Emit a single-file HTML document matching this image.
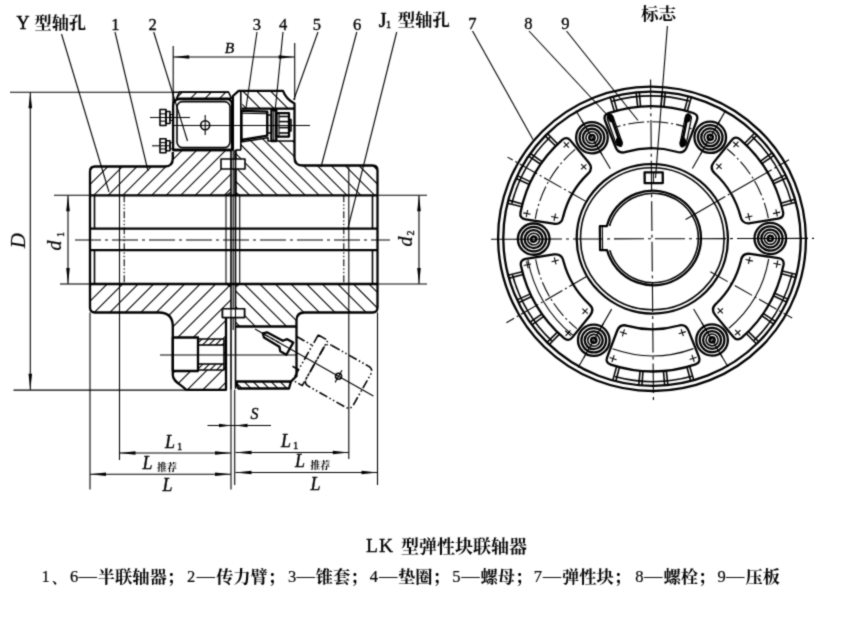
<!DOCTYPE html>
<html><head><meta charset="utf-8"><title>LK</title>
<style>
html,body{margin:0;padding:0;background:#fff;}
body{width:846px;height:622px;overflow:hidden;position:relative;font-family:"Liberation Serif",serif;}
</style></head><body>
<svg width="846" height="622" viewBox="0 0 846 622" style="position:absolute;left:0;top:0" stroke="#000" fill="none" stroke-linecap="butt" stroke-linejoin="round">
<defs><filter id="soft" x="0" y="0" width="100%" height="100%" filterUnits="userSpaceOnUse" color-interpolation-filters="sRGB"><feConvolveMatrix order="3" kernelMatrix="0.3 0.9 0.3 0.9 4 0.9 0.3 0.9 0.3" edgeMode="duplicate" preserveAlpha="false"/></filter><clipPath id="c1"><path d="M90.0,195.3 L90.0,171.5 Q90.0,166.5 95.0,166.5 L164.8,166.5 Q172.8,166.5 172.8,158.5 L172.8,150 L231.0,150 L231.0,195.3 Z M221,159 L232.0,159 L232.0,169 L221,169 Z" clip-rule="evenodd"/></clipPath><clipPath id="c2"><path d="M179.5,92.0 L228.5,92.0 L231.5,98.3 L176.5,98.3 Z" clip-rule="evenodd"/></clipPath><clipPath id="c3"><path d="M243,90.8 L283,90.8 Q286,99 294.5,103.5 L294.5,108.5 L243,108.5 Q240.5,100 243,90.8 Z" clip-rule="evenodd"/></clipPath><clipPath id="c4"><path d="M235.5,195.3 L235.5,150 L241,150 L241,142 L268,137.5 L268,141 L294.5,141 L294.5,157.5 Q294.5,165.5 302.5,165.5 L372.5,165.5 Q377.5,165.5 377.5,170.5 L377.5,195.3 Z M234.5,159 L245,159 L245,169 L234.5,169 Z" clip-rule="evenodd"/></clipPath><clipPath id="c5"><path d="M90.0,284.0 L231.0,284.0 L231.0,309 L226,309 L226,389.8 L186,389.8 C181,384 172.8,382 172.8,375 L172.8,371 L198,371 L198,370 L224,370 L224,339 L198,339 L198,337.5 L172.8,337.5 L172.8,326.5 Q172.8,312.5 158.8,312.5 L95.0,312.5 Q90.0,312.5 90.0,307.5 Z" clip-rule="evenodd"/></clipPath><clipPath id="c6"><path d="M198,339 L224,339 L224,345 L198,345 Z M198,364 L224,364 L224,370 L198,370 Z" clip-rule="evenodd"/></clipPath><clipPath id="c7"><path d="M235.5,284.0 L377.5,284.0 L377.5,307.5 Q377.5,312.5 372.5,312.5 L304.5,312.5 Q296.5,312.5 296.5,320.5 L296.5,326.5 L235.5,326.5 Z M234.5,308.7 L244.5,308.7 L244.5,317.5 L234.5,317.5 Z" clip-rule="evenodd"/></clipPath><clipPath id="c8"><path d="M236.5,381.5 L291,381.5 L289,388.5 L238.5,388.5 Q236.5,386 236.5,381.5 Z" clip-rule="evenodd"/></clipPath></defs>
<g filter="url(#soft)">
<g id="leftview">
<g clip-path="url(#c1)">
<path d="M96.5,149.0L49.2,196.3M111.0,149.0L63.7,196.3M125.5,149.0L78.2,196.3M140.0,149.0L92.7,196.3M154.5,149.0L107.2,196.3M169.0,149.0L121.7,196.3M183.5,149.0L136.2,196.3M198.0,149.0L150.7,196.3M212.5,149.0L165.2,196.3M227.0,149.0L179.7,196.3M241.5,149.0L194.2,196.3M256.0,149.0L208.7,196.3M270.5,149.0L223.2,196.3" stroke-width="1.1"/>
</g>
<g clip-path="url(#c2)">
<path d="M183.5,91.0L175.2,99.3M198.0,91.0L189.7,99.3M212.5,91.0L204.2,99.3M227.0,91.0L218.7,99.3" stroke-width="1.1"/>
</g>
<path d="M179.5,92.0 L228.5,92.0 L231.5,98.3 L176.5,98.3 Z" stroke-width="1.6" fill="none"/>
<path d="M90.0,195.3 L90.0,171.5 Q90.0,166.5 95.0,166.5 L164.8,166.5 Q172.8,166.5 172.8,158.5 L172.8,152" stroke-width="2.3" fill="none"/>
<line x1="90.00" y1="195.30" x2="377.50" y2="195.30" stroke-width="2.3"/>
<line x1="90.00" y1="284.00" x2="377.50" y2="284.00" stroke-width="2.3"/>
<path d="M173.10000000000002,150 L173.10000000000002,106 Q173.10000000000002,99.2 179.8,99.2 L227.0,99.2 Q232.0,99.2 232.0,105 L232.0,150 Z" stroke-width="2.3" fill="none"/>
<rect x="177.00" y="101.60" width="53.00" height="46.00" rx="5.5" stroke-width="1.6" fill="none"/>
<line x1="172.80" y1="92.30" x2="229.00" y2="92.30" stroke-width="1.6"/>
<line x1="172.80" y1="150.00" x2="232.00" y2="150.00" stroke-width="2.3"/>
<line x1="173.10" y1="92.30" x2="173.10" y2="106.00" stroke-width="1.6"/>
<circle cx="205.20" cy="125.20" r="4.50" stroke-width="1.6" fill="none"/>
<line x1="174.00" y1="125.50" x2="310.00" y2="125.50" stroke-width="1.1"/>
<line x1="205.20" y1="115.00" x2="205.20" y2="135.00" stroke-width="1.1"/>
<rect x="160.00" y="109.50" width="6.00" height="16.00" rx="0" stroke-width="1.6" fill="none"/>
<line x1="160.00" y1="113.86" x2="166.00" y2="113.86" stroke-width="1.1"/>
<line x1="160.00" y1="121.14" x2="166.00" y2="121.14" stroke-width="1.1"/>
<rect x="166.00" y="111.50" width="4.00" height="12.00" rx="0" stroke-width="1.6" fill="none"/>
<rect x="170.00" y="114.50" width="2.80" height="6.00" rx="0" stroke-width="1.1" fill="none"/>
<rect x="160.00" y="138.80" width="6.00" height="14.00" rx="0" stroke-width="1.6" fill="none"/>
<line x1="160.00" y1="142.62" x2="166.00" y2="142.62" stroke-width="1.1"/>
<line x1="160.00" y1="148.98" x2="166.00" y2="148.98" stroke-width="1.1"/>
<rect x="166.00" y="140.80" width="4.00" height="10.00" rx="0" stroke-width="1.6" fill="none"/>
<rect x="170.00" y="142.80" width="2.80" height="6.00" rx="0" stroke-width="1.1" fill="none"/>
<line x1="150.00" y1="117.50" x2="190.00" y2="117.50" stroke-width="1.1"/>
<line x1="152.00" y1="145.80" x2="170.00" y2="145.80" stroke-width="1.1"/>
<g clip-path="url(#c3)">
<path d="M227.6,89.8L247.3,109.5M241.5,89.8L261.2,109.5M255.4,89.8L275.1,109.5M269.3,89.8L289.0,109.5M283.2,89.8L302.9,109.5" stroke-width="1.1"/>
</g>
<g clip-path="url(#c4)">
<path d="M177.0,136.5L236.8,196.3M190.9,136.5L250.7,196.3M204.8,136.5L264.6,196.3M218.7,136.5L278.5,196.3M232.6,136.5L292.4,196.3M246.5,136.5L306.3,196.3M260.4,136.5L320.2,196.3M274.3,136.5L334.1,196.3M288.2,136.5L348.0,196.3M302.1,136.5L361.9,196.3M316.0,136.5L375.8,196.3M329.9,136.5L389.7,196.3M343.8,136.5L403.6,196.3M357.7,136.5L417.5,196.3M371.6,136.5L431.4,196.3" stroke-width="1.1"/>
</g>
<path d="M235.5,195.3 L235.5,150 M232.9,150 L232.9,96 L238.6,90.8 L283,90.8 Q286,99 294.5,103.5 L294.5,157.5 Q294.5,165.5 302.5,165.5 L372.5,165.5 Q377.5,165.5 377.5,170.5 L377.5,195.3" stroke-width="2.3" fill="none"/>
<path d="M240.8,92 L240.8,150" stroke-width="1.6" fill="none"/>
<path d="M235.5,150 L241,150" stroke-width="1.6" fill="none"/>
<path d="M241.5,108.6 L294.5,108.6" stroke-width="2.3" fill="none"/>
<path d="M241.5,110.8 L267.3,111.6 L267.3,135.6 L241.5,140 Z" stroke-width="2.3" fill="none"/>
<path d="M241.5,113.2 L267.3,113.8" stroke-width="1.1" fill="none"/>
<rect x="267.30" y="115.00" width="4.10" height="18.00" rx="0" stroke-width="1.6" fill="none"/>
<rect x="271.40" y="110.00" width="4.90" height="31.00" rx="0" stroke-width="2.3" fill="none"/>
<line x1="273.80" y1="110.00" x2="273.80" y2="141.00" stroke-width="1.1"/>
<path d="M241,142 L268,137.8 L268,141 L294.5,141" stroke-width="1.6" fill="none"/>
<rect x="276.30" y="113.20" width="12.70" height="23.40" rx="0" stroke-width="2.3" fill="none"/>
<line x1="279.00" y1="116.50" x2="289.00" y2="116.50" stroke-width="1.6"/>
<line x1="279.00" y1="121.60" x2="289.00" y2="121.60" stroke-width="1.6"/>
<line x1="279.00" y1="127.60" x2="289.00" y2="127.60" stroke-width="1.6"/>
<line x1="279.00" y1="133.00" x2="289.00" y2="133.00" stroke-width="1.6"/>
<line x1="279.00" y1="113.20" x2="279.00" y2="136.60" stroke-width="1.1"/>
<rect x="289.00" y="119.50" width="2.00" height="11.50" rx="0" stroke-width="1.6" fill="none"/>
<line x1="238.00" y1="125.50" x2="300.00" y2="125.50" stroke-width="1.1"/>
<rect x="221.00" y="159.00" width="24.00" height="10.00" rx="0" stroke-width="1.6" fill="#fff"/>
<line x1="231.00" y1="159.00" x2="231.00" y2="169.00" stroke-width="1.1"/>
<line x1="235.50" y1="159.00" x2="235.50" y2="169.00" stroke-width="1.1"/>
<line x1="231.00" y1="150.00" x2="231.00" y2="389.80" stroke-width="1.6"/>
<line x1="235.50" y1="150.00" x2="235.50" y2="388.80" stroke-width="1.6"/>
<line x1="233.20" y1="150.00" x2="233.20" y2="330.00" stroke-width="1.1"/>
<line x1="226.00" y1="195.30" x2="226.00" y2="284.00" stroke-width="1.1"/>
<line x1="239.70" y1="195.30" x2="239.70" y2="284.00" stroke-width="1.1"/>
<path d="M226,195.3 L231.0,192.3 M239.7,195.3 L235.5,192.3 M226,284.0 L231.0,287.0 M239.7,284.0 L235.5,287.0" stroke-width="1.1" fill="none"/>
<line x1="90.00" y1="228.70" x2="377.50" y2="228.70" stroke-width="2.3"/>
<line x1="90.00" y1="250.20" x2="377.50" y2="250.20" stroke-width="2.3"/>
<line x1="75.00" y1="240.00" x2="390.00" y2="240.00" stroke-width="1.1" stroke-dasharray="26 4 3 4"/>
<line x1="94.50" y1="195.30" x2="94.50" y2="228.70" stroke-width="1.6"/>
<line x1="94.50" y1="250.20" x2="94.50" y2="284.00" stroke-width="1.6"/>
<line x1="90.00" y1="228.70" x2="90.00" y2="250.20" stroke-width="1.6"/>
<line x1="372.50" y1="195.30" x2="372.50" y2="228.70" stroke-width="1.6"/>
<line x1="372.50" y1="250.20" x2="372.50" y2="284.00" stroke-width="1.6"/>
<line x1="377.50" y1="195.30" x2="377.50" y2="284.00" stroke-width="2.3"/>
<line x1="90.00" y1="195.30" x2="90.00" y2="284.00" stroke-width="2.3"/>
<line x1="119.50" y1="166.50" x2="119.50" y2="460.00" stroke-width="1.1"/>
<line x1="124.20" y1="195.30" x2="124.20" y2="284.00" stroke-width="1.1" stroke-dasharray="7 2 1.5 2 1.5 2"/>
<line x1="343.80" y1="195.30" x2="343.80" y2="284.00" stroke-width="1.1" stroke-dasharray="7 2 1.5 2 1.5 2"/>
<line x1="348.80" y1="166.50" x2="348.80" y2="459.00" stroke-width="1.1"/>
<g clip-path="url(#c5)">
<path d="M92.7,283.0L-15.1,390.8M108.2,283.0L0.4,390.8M123.7,283.0L15.9,390.8M139.2,283.0L31.4,390.8M154.7,283.0L46.9,390.8M170.2,283.0L62.4,390.8M185.7,283.0L77.9,390.8M201.2,283.0L93.4,390.8M216.7,283.0L108.9,390.8M232.2,283.0L124.4,390.8M247.7,283.0L139.9,390.8M263.2,283.0L155.4,390.8M278.7,283.0L170.9,390.8M294.2,283.0L186.4,390.8M309.7,283.0L201.9,390.8M325.2,283.0L217.4,390.8" stroke-width="1.1"/>
</g>
<g clip-path="url(#c6)">
<path d="M203.0,338.0L170.0,371.0M209.5,338.0L176.5,371.0M216.0,338.0L183.0,371.0M222.5,338.0L189.5,371.0M229.0,338.0L196.0,371.0M235.5,338.0L202.5,371.0M242.0,338.0L209.0,371.0M248.5,338.0L215.5,371.0M255.0,338.0L222.0,371.0" stroke-width="1.1"/>
</g>
<path d="M90.0,284.0 L90.0,307.5 Q90.0,312.5 95.0,312.5 L158.8,312.5 Q172.8,312.5 172.8,326.5 L172.8,375 C172.8,382 181,384 186,389.8 L226,389.8 L226,309" stroke-width="2.3" fill="none"/>
<rect x="172.80" y="337.50" width="25.20" height="33.50" rx="0" stroke-width="2.3" fill="none"/>
<rect x="198.00" y="339.00" width="26.00" height="31.00" rx="0" stroke-width="1.6" fill="none"/>
<line x1="198.00" y1="345.00" x2="224.00" y2="345.00" stroke-width="1.6"/>
<line x1="198.00" y1="364.00" x2="224.00" y2="364.00" stroke-width="1.6"/>
<line x1="160.00" y1="355.00" x2="297.00" y2="355.00" stroke-width="1.1"/>
<rect x="222.50" y="308.70" width="22.00" height="8.80" rx="0" stroke-width="1.6" fill="#fff"/>
<g clip-path="url(#c7)">
<path d="M196.4,283.0L240.9,327.5M212.0,283.0L256.5,327.5M227.6,283.0L272.1,327.5M243.2,283.0L287.7,327.5M258.8,283.0L303.3,327.5M274.4,283.0L318.9,327.5M290.0,283.0L334.5,327.5M305.6,283.0L350.1,327.5M321.2,283.0L365.7,327.5M336.8,283.0L381.3,327.5M352.4,283.0L396.9,327.5M368.0,283.0L412.5,327.5" stroke-width="1.1"/>
</g>
<path d="M377.5,284.0 L377.5,307.5 Q377.5,312.5 372.5,312.5 L304.5,312.5 Q296.5,312.5 296.5,320.5 L296.5,376 L291,381.5" stroke-width="2.3" fill="none"/>
<line x1="235.50" y1="326.50" x2="296.50" y2="326.50" stroke-width="2.3"/>
<g clip-path="url(#c8)">
<path d="M234.0,380.5L243.0,389.5M243.0,380.5L252.0,389.5M252.0,380.5L261.0,389.5M261.0,380.5L270.0,389.5M270.0,380.5L279.0,389.5M279.0,380.5L288.0,389.5M288.0,380.5L297.0,389.5" stroke-width="1.1"/>
</g>
<path d="M236.5,381.5 L291,381.5 L289,388.5 L238.5,388.5 Q236.5,386 236.5,381.5 Z" stroke-width="2.3" fill="none"/>
<rect x="222.50" y="308.70" width="22.00" height="8.80" rx="0" stroke-width="1.6" fill="#fff"/>
<line x1="231.00" y1="308.70" x2="231.00" y2="317.50" stroke-width="1.1"/>
<line x1="235.50" y1="308.70" x2="235.50" y2="317.50" stroke-width="1.1"/>
<line x1="255.00" y1="329.00" x2="373.37" y2="395.97" stroke-width="1.1"/>
<path d="M266.92,332.30 L282.83,340.73 L287.17,339.16 L293.26,342.60 L286.37,354.79 L280.27,351.34 L279.39,346.82 L263.97,337.52 L262.83,333.43 Z" stroke-width="2.3" fill="none"/>
<line x1="265.44" y1="334.91" x2="281.11" y2="343.77" stroke-width="1.1" stroke-dasharray="4 2"/>
<path d="M331.85,345.48 L368.40,366.16 Q373.63,369.11 370.67,374.34 L353.44,404.80 Q350.48,410.02 345.26,407.07 L308.70,386.39 Q303.48,383.43 306.44,378.21 L323.67,347.75 Q326.63,342.52 331.85,345.48 Z" stroke-width="1.6" fill="none" stroke-dasharray="9 2.5 1.5 2.5 1.5 2.5"/>
<path d="M318.28,334.93 L327.86,340.35 L302.25,385.61 L292.68,380.19 Z" stroke-width="1.6" fill="none" stroke-dasharray="9 2.5 1.5 2.5 1.5 2.5"/>
<line x1="296.71" y1="336.51" x2="312.37" y2="345.38" stroke-width="1.6" stroke-dasharray="9 2.5 1.5 2.5 1.5 2.5"/>
<line x1="292.49" y1="366.30" x2="298.59" y2="369.75" stroke-width="1.6" stroke-dasharray="9 2.5 1.5 2.5 1.5 2.5"/>
<circle cx="338.55" cy="376.27" r="3.00" stroke-width="1.6" fill="none"/>
<line x1="342.00" y1="370.18" x2="335.11" y2="382.37" stroke-width="1.1"/>
<line x1="10.00" y1="92.30" x2="172.80" y2="92.30" stroke-width="1.1"/>
<line x1="13.50" y1="390.10" x2="186.00" y2="390.10" stroke-width="1.1"/>
<line x1="30.30" y1="92.30" x2="30.30" y2="389.80" stroke-width="1.1"/>
<polygon points="30.30,92.30 32.10,108.30 28.50,108.30" fill="#000" stroke="none"/>
<polygon points="30.30,389.80 28.50,373.80 32.10,373.80" fill="#000" stroke="none"/>
<line x1="54.00" y1="195.30" x2="90.00" y2="195.30" stroke-width="1.1"/>
<line x1="60.00" y1="284.00" x2="90.00" y2="284.00" stroke-width="1.1"/>
<line x1="68.00" y1="195.30" x2="68.00" y2="284.00" stroke-width="1.1"/>
<polygon points="68.00,195.30 69.80,211.30 66.20,211.30" fill="#000" stroke="none"/>
<polygon points="68.00,284.00 66.20,268.00 69.80,268.00" fill="#000" stroke="none"/>
<line x1="377.50" y1="195.30" x2="427.00" y2="195.30" stroke-width="1.1"/>
<line x1="377.50" y1="284.00" x2="427.00" y2="284.00" stroke-width="1.1"/>
<line x1="419.00" y1="195.30" x2="419.00" y2="284.00" stroke-width="1.1"/>
<polygon points="419.00,195.30 420.80,211.30 417.20,211.30" fill="#000" stroke="none"/>
<polygon points="419.00,284.00 417.20,268.00 420.80,268.00" fill="#000" stroke="none"/>
<line x1="173.20" y1="46.00" x2="173.20" y2="92.30" stroke-width="1.1"/>
<line x1="294.70" y1="43.00" x2="294.70" y2="100.00" stroke-width="1.1"/>
<line x1="173.20" y1="57.00" x2="294.70" y2="57.00" stroke-width="1.1"/>
<polygon points="173.20,57.00 189.20,55.20 189.20,58.80" fill="#000" stroke="none"/>
<polygon points="294.70,57.00 278.70,58.80 278.70,55.20" fill="#000" stroke="none"/>
<line x1="207.50" y1="425.50" x2="271.00" y2="425.50" stroke-width="1.1"/>
<polygon points="231.00,425.50 219.00,427.30 219.00,423.70" fill="#000" stroke="none"/>
<polygon points="235.50,425.50 247.50,423.70 247.50,427.30" fill="#000" stroke="none"/>
<line x1="90.00" y1="312.50" x2="90.00" y2="489.50" stroke-width="1.1"/>
<line x1="377.50" y1="312.50" x2="377.50" y2="485.00" stroke-width="1.1"/>
<line x1="231.00" y1="389.80" x2="231.00" y2="489.50" stroke-width="1.1"/>
<line x1="234.70" y1="389.80" x2="234.70" y2="485.00" stroke-width="1.1"/>
<line x1="119.50" y1="453.00" x2="231.00" y2="453.00" stroke-width="1.1"/>
<polygon points="119.50,453.00 135.50,451.20 135.50,454.80" fill="#000" stroke="none"/>
<polygon points="231.00,453.00 215.00,454.80 215.00,451.20" fill="#000" stroke="none"/>
<line x1="235.50" y1="452.50" x2="348.80" y2="452.50" stroke-width="1.1"/>
<polygon points="235.50,452.50 251.50,450.70 251.50,454.30" fill="#000" stroke="none"/>
<polygon points="348.80,452.50 332.80,454.30 332.80,450.70" fill="#000" stroke="none"/>
<line x1="90.00" y1="474.30" x2="231.00" y2="474.30" stroke-width="1.1"/>
<polygon points="90.00,474.30 106.00,472.50 106.00,476.10" fill="#000" stroke="none"/>
<polygon points="231.00,474.30 215.00,476.10 215.00,472.50" fill="#000" stroke="none"/>
<line x1="235.50" y1="472.50" x2="377.50" y2="472.50" stroke-width="1.1"/>
<polygon points="235.50,472.50 251.50,470.70 251.50,474.30" fill="#000" stroke="none"/>
<polygon points="377.50,472.50 361.50,474.30 361.50,470.70" fill="#000" stroke="none"/>
<line x1="61.50" y1="34.00" x2="109.00" y2="192.00" stroke-width="1.1"/>
<line x1="115.00" y1="32.00" x2="148.00" y2="171.00" stroke-width="1.1"/>
<line x1="153.70" y1="32.00" x2="187.50" y2="141.00" stroke-width="1.1"/>
<line x1="257.00" y1="32.00" x2="246.00" y2="108.00" stroke-width="1.1"/>
<line x1="283.00" y1="32.00" x2="275.00" y2="112.00" stroke-width="1.1"/>
<line x1="318.00" y1="32.00" x2="293.70" y2="100.00" stroke-width="1.1"/>
<line x1="356.80" y1="32.00" x2="321.00" y2="167.00" stroke-width="1.1"/>
<line x1="396.70" y1="32.00" x2="348.00" y2="228.00" stroke-width="1.1"/>
</g>
<g id="rightview" transform="matrix(1 -0.0028 0.0089 0.989 652.0 238.8)">
<circle cx="0.00" cy="0.00" r="153.90" stroke-width="2.3" fill="none"/>
<circle cx="0.00" cy="0.00" r="148.70" stroke-width="2.3" fill="none"/>
<circle cx="0.30" cy="0.00" r="75.60" stroke-width="2.3" fill="none"/>
<circle cx="0.30" cy="0.00" r="71.80" stroke-width="1.6" fill="none"/>
<g transform="translate(1.2,-0.8)">
<path d="M-46.22,-12.20 A47.8,47.8 0 1 1 -46.22,12.20 L-53.2,12.2 L-53.2,-12.2 Z" stroke-width="2.3" fill="none"/>
<path d="M-43.52,-12.20 A45.2,45.2 0 1 1 -43.52,12.20" stroke-width="1.6" fill="none"/>
<line x1="-50.70" y1="-12.20" x2="-50.70" y2="12.20" stroke-width="1.1"/>
</g>
<rect x="-6.80" y="-67.20" width="18.10" height="10.90" rx="0" stroke-width="2.3" fill="none"/>
<line x1="2.00" y1="-67.20" x2="2.00" y2="-56.30" stroke-width="1.1"/>
<line x1="-161.00" y1="0.00" x2="162.00" y2="0.00" stroke-width="1.1" stroke-dasharray="30 4 3 4"/>
<line x1="0.00" y1="-161.00" x2="0.00" y2="163.00" stroke-width="1.1" stroke-dasharray="30 4 3 4"/>
<path d="M131.28,-26.87 A134.00,134.00 0 0 0 88.91,-100.26 Q84.33,-104.14 80.55,-99.47 L62.62,-77.33 Q57.58,-71.11 63.57,-65.81 A91.50,91.50 0 0 1 88.78,-22.15 Q90.37,-14.31 98.27,-15.57 L126.42,-20.02 Q132.35,-20.96 131.28,-26.87 Z" stroke-width="2.3" fill="none"/>
<path d="M116.50,-20.54 A118.30,118.30 0 0 0 76.04,-90.62" stroke-width="1.1" fill="none" stroke-dasharray="16 3 2 3"/>
<path d="M121.23,-25.11 L128.47,-26.61 M124.10,-29.48 L125.60,-22.23" stroke-width="1.1" fill="none"/>
<path d="M82.36,-92.43 L87.28,-97.96 M82.05,-97.66 L87.58,-92.74" stroke-width="1.1" fill="none"/>
<path d="M93.42,-21.22 L100.64,-22.86 M96.21,-25.65 L97.85,-18.44" stroke-width="1.1" fill="none"/>
<path d="M65.09,-70.29 L70.12,-75.72 M64.89,-75.52 L70.32,-70.49" stroke-width="1.1" fill="none"/>
<line x1="33.77" y1="-19.50" x2="137.70" y2="-79.50" stroke-width="1.1" stroke-dasharray="46 3 2 3"/>
<line x1="129.91" y1="-32.84" x2="144.17" y2="-36.44" stroke-width="1.6"/>
<line x1="129.18" y1="-35.62" x2="143.35" y2="-39.52" stroke-width="1.6"/>
<line x1="122.05" y1="-55.33" x2="135.43" y2="-61.40" stroke-width="1.6"/>
<line x1="120.83" y1="-57.93" x2="134.09" y2="-64.28" stroke-width="1.6"/>
<line x1="110.58" y1="-75.68" x2="122.71" y2="-83.98" stroke-width="1.6"/>
<line x1="108.94" y1="-78.03" x2="120.89" y2="-86.59" stroke-width="1.6"/>
<line x1="95.43" y1="-94.07" x2="105.90" y2="-104.38" stroke-width="1.6"/>
<line x1="93.40" y1="-96.09" x2="103.64" y2="-106.63" stroke-width="1.6"/>
<path d="M139.80,-36.15 A144.40,144.40 0 0 0 101.21,-102.99" stroke-width="1.6" fill="none"/>
<path d="M42.37,-127.12 A134.00,134.00 0 0 0 -42.37,-127.12 Q-48.02,-125.10 -45.87,-119.50 L-35.66,-92.89 Q-32.79,-85.42 -25.21,-87.96 A91.50,91.50 0 0 1 25.21,-87.96 Q32.79,-85.42 35.66,-92.89 L45.87,-119.50 Q48.02,-125.10 42.37,-127.12 Z" stroke-width="2.3" fill="none"/>
<path d="M40.46,-111.17 A118.30,118.30 0 0 0 -40.46,-111.17" stroke-width="1.1" fill="none" stroke-dasharray="16 3 2 3"/>
<line x1="36.52" y1="-128.93" x2="40.52" y2="-143.07" stroke-width="1.6"/>
<line x1="33.75" y1="-129.68" x2="37.45" y2="-143.91" stroke-width="1.6"/>
<line x1="13.11" y1="-133.36" x2="14.55" y2="-147.99" stroke-width="1.6"/>
<line x1="10.25" y1="-133.61" x2="11.37" y2="-148.26" stroke-width="1.6"/>
<line x1="-10.25" y1="-133.61" x2="-11.37" y2="-148.26" stroke-width="1.6"/>
<line x1="-13.11" y1="-133.36" x2="-14.55" y2="-147.99" stroke-width="1.6"/>
<line x1="-33.75" y1="-129.68" x2="-37.45" y2="-143.91" stroke-width="1.6"/>
<line x1="-36.52" y1="-128.93" x2="-40.52" y2="-143.07" stroke-width="1.6"/>
<path d="M38.59,-139.15 A144.40,144.40 0 0 0 -38.59,-139.15" stroke-width="1.6" fill="none"/>
<path d="M-88.91,-100.26 A134.00,134.00 0 0 0 -131.28,-26.87 Q-132.35,-20.96 -126.42,-20.02 L-98.27,-15.57 Q-90.37,-14.31 -88.78,-22.15 A91.50,91.50 0 0 1 -63.57,-65.81 Q-57.58,-71.11 -62.62,-77.33 L-80.55,-99.47 Q-84.33,-104.14 -88.91,-100.26 Z" stroke-width="2.3" fill="none"/>
<path d="M-76.04,-90.62 A118.30,118.30 0 0 0 -116.50,-20.54" stroke-width="1.1" fill="none" stroke-dasharray="16 3 2 3"/>
<path d="M-82.36,-92.43 L-87.28,-97.96 M-87.58,-92.74 L-82.05,-97.66" stroke-width="1.1" fill="none"/>
<path d="M-121.23,-25.11 L-128.47,-26.61 M-125.60,-22.23 L-124.10,-29.48" stroke-width="1.1" fill="none"/>
<path d="M-65.09,-70.29 L-70.12,-75.72 M-70.32,-70.49 L-64.89,-75.52" stroke-width="1.1" fill="none"/>
<path d="M-93.42,-21.22 L-100.64,-22.86 M-97.85,-18.44 L-96.21,-25.65" stroke-width="1.1" fill="none"/>
<line x1="-65.82" y1="-38.00" x2="-143.76" y2="-83.00" stroke-width="1.1" stroke-dasharray="20 3 2 3"/>
<line x1="-93.40" y1="-96.09" x2="-103.64" y2="-106.63" stroke-width="1.6"/>
<line x1="-95.43" y1="-94.07" x2="-105.90" y2="-104.38" stroke-width="1.6"/>
<line x1="-108.94" y1="-78.03" x2="-120.89" y2="-86.59" stroke-width="1.6"/>
<line x1="-110.58" y1="-75.68" x2="-122.71" y2="-83.98" stroke-width="1.6"/>
<line x1="-120.83" y1="-57.93" x2="-134.09" y2="-64.28" stroke-width="1.6"/>
<line x1="-122.05" y1="-55.33" x2="-135.43" y2="-61.40" stroke-width="1.6"/>
<line x1="-129.18" y1="-35.62" x2="-143.35" y2="-39.52" stroke-width="1.6"/>
<line x1="-129.91" y1="-32.84" x2="-144.17" y2="-36.44" stroke-width="1.6"/>
<path d="M-101.21,-102.99 A144.40,144.40 0 0 0 -139.80,-36.15" stroke-width="1.6" fill="none"/>
<path d="M-131.28,26.87 A134.00,134.00 0 0 0 -88.91,100.26 Q-84.33,104.14 -80.55,99.47 L-62.62,77.33 Q-57.58,71.11 -63.57,65.81 A91.50,91.50 0 0 1 -88.78,22.15 Q-90.37,14.31 -98.27,15.57 L-126.42,20.02 Q-132.35,20.96 -131.28,26.87 Z" stroke-width="2.3" fill="none"/>
<path d="M-116.50,20.54 A118.30,118.30 0 0 0 -76.04,90.62" stroke-width="1.1" fill="none" stroke-dasharray="16 3 2 3"/>
<path d="M-124.27,20.80 A126.00,126.00 0 0 0 -80.15,97.22" stroke-width="1.1" fill="none"/>
<path d="M-121.23,25.11 L-128.47,26.61 M-124.10,29.48 L-125.60,22.23" stroke-width="1.1" fill="none"/>
<path d="M-82.36,92.43 L-87.28,97.96 M-82.05,97.66 L-87.58,92.74" stroke-width="1.1" fill="none"/>
<path d="M-93.42,21.22 L-100.64,22.86 M-96.21,25.65 L-97.85,18.44" stroke-width="1.1" fill="none"/>
<path d="M-65.09,70.29 L-70.12,75.72 M-64.89,75.52 L-70.32,70.49" stroke-width="1.1" fill="none"/>
<line x1="-65.82" y1="38.00" x2="-146.36" y2="84.50" stroke-width="1.1" stroke-dasharray="20 3 2 3"/>
<line x1="-129.91" y1="32.84" x2="-144.17" y2="36.44" stroke-width="1.6"/>
<line x1="-129.18" y1="35.62" x2="-143.35" y2="39.52" stroke-width="1.6"/>
<line x1="-122.05" y1="55.33" x2="-135.43" y2="61.40" stroke-width="1.6"/>
<line x1="-120.83" y1="57.93" x2="-134.09" y2="64.28" stroke-width="1.6"/>
<line x1="-110.58" y1="75.68" x2="-122.71" y2="83.98" stroke-width="1.6"/>
<line x1="-108.94" y1="78.03" x2="-120.89" y2="86.59" stroke-width="1.6"/>
<line x1="-95.43" y1="94.07" x2="-105.90" y2="104.38" stroke-width="1.6"/>
<line x1="-93.40" y1="96.09" x2="-103.64" y2="106.63" stroke-width="1.6"/>
<path d="M-139.80,36.15 A144.40,144.40 0 0 0 -101.21,102.99" stroke-width="1.6" fill="none"/>
<path d="M-42.37,127.12 A134.00,134.00 0 0 0 42.37,127.12 Q48.02,125.10 45.87,119.50 L35.66,92.89 Q32.79,85.42 25.21,87.96 A91.50,91.50 0 0 1 -25.21,87.96 Q-32.79,85.42 -35.66,92.89 L-45.87,119.50 Q-48.02,125.10 -42.37,127.12 Z" stroke-width="2.3" fill="none"/>
<path d="M-40.46,111.17 A118.30,118.30 0 0 0 40.46,111.17" stroke-width="1.1" fill="none"/>
<path d="M-38.87,117.54 L-41.20,124.56 M-36.52,122.21 L-43.55,119.89" stroke-width="1.1" fill="none"/>
<path d="M38.87,117.54 L41.20,124.56 M43.55,119.89 L36.52,122.21" stroke-width="1.1" fill="none"/>
<path d="M-28.33,91.52 L-30.52,98.58 M-25.89,96.14 L-32.96,93.96" stroke-width="1.1" fill="none"/>
<path d="M28.33,91.52 L30.52,98.58 M32.96,93.96 L25.89,96.14" stroke-width="1.1" fill="none"/>
<line x1="-36.52" y1="128.93" x2="-40.52" y2="143.07" stroke-width="1.6"/>
<line x1="-33.75" y1="129.68" x2="-37.45" y2="143.91" stroke-width="1.6"/>
<line x1="-13.11" y1="133.36" x2="-14.55" y2="147.99" stroke-width="1.6"/>
<line x1="-10.25" y1="133.61" x2="-11.37" y2="148.26" stroke-width="1.6"/>
<line x1="10.25" y1="133.61" x2="11.37" y2="148.26" stroke-width="1.6"/>
<line x1="13.11" y1="133.36" x2="14.55" y2="147.99" stroke-width="1.6"/>
<line x1="33.75" y1="129.68" x2="37.45" y2="143.91" stroke-width="1.6"/>
<line x1="36.52" y1="128.93" x2="40.52" y2="143.07" stroke-width="1.6"/>
<path d="M-38.59,139.15 A144.40,144.40 0 0 0 38.59,139.15" stroke-width="1.6" fill="none"/>
<path d="M88.91,100.26 A134.00,134.00 0 0 0 131.28,26.87 Q132.35,20.96 126.42,20.02 L98.27,15.57 Q90.37,14.31 88.78,22.15 A91.50,91.50 0 0 1 63.57,65.81 Q57.58,71.11 62.62,77.33 L80.55,99.47 Q84.33,104.14 88.91,100.26 Z" stroke-width="2.3" fill="none"/>
<path d="M76.04,90.62 A118.30,118.30 0 0 0 116.50,20.54" stroke-width="1.1" fill="none"/>
<path d="M82.36,92.43 L87.28,97.96 M87.58,92.74 L82.05,97.66" stroke-width="1.1" fill="none"/>
<path d="M121.23,25.11 L128.47,26.61 M125.60,22.23 L124.10,29.48" stroke-width="1.1" fill="none"/>
<path d="M65.09,70.29 L70.12,75.72 M70.32,70.49 L64.89,75.52" stroke-width="1.1" fill="none"/>
<path d="M93.42,21.22 L100.64,22.86 M97.85,18.44 L96.21,25.65" stroke-width="1.1" fill="none"/>
<line x1="58.02" y1="33.50" x2="139.43" y2="80.50" stroke-width="1.1" stroke-dasharray="20 3 2 3"/>
<line x1="93.40" y1="96.09" x2="103.64" y2="106.63" stroke-width="1.6"/>
<line x1="95.43" y1="94.07" x2="105.90" y2="104.38" stroke-width="1.6"/>
<line x1="108.94" y1="78.03" x2="120.89" y2="86.59" stroke-width="1.6"/>
<line x1="110.58" y1="75.68" x2="122.71" y2="83.98" stroke-width="1.6"/>
<line x1="120.83" y1="57.93" x2="134.09" y2="64.28" stroke-width="1.6"/>
<line x1="122.05" y1="55.33" x2="135.43" y2="61.40" stroke-width="1.6"/>
<line x1="129.18" y1="35.62" x2="143.35" y2="39.52" stroke-width="1.6"/>
<line x1="129.91" y1="32.84" x2="144.17" y2="36.44" stroke-width="1.6"/>
<path d="M101.21,102.99 A144.40,144.40 0 0 0 139.80,36.15" stroke-width="1.6" fill="none"/>
<circle cx="118.30" cy="-0.00" r="15.80" stroke-width="2.3" fill="#fff"/>
<circle cx="118.30" cy="-0.00" r="12.30" stroke-width="2.3" fill="none"/>
<circle cx="118.30" cy="-0.00" r="9.00" stroke-width="2.3" fill="none"/>
<circle cx="118.30" cy="-0.00" r="6.00" stroke-width="1.6" fill="none"/>
<circle cx="118.30" cy="-0.00" r="2.60" stroke-width="2.6" fill="none"/>
<line x1="101.30" y1="-0.00" x2="135.30" y2="-0.00" stroke-width="1.1"/>
<line x1="41.00" y1="-71.01" x2="75.00" y2="-129.90" stroke-width="1.1"/>
<circle cx="59.15" cy="-102.45" r="15.80" stroke-width="2.3" fill="#fff"/>
<circle cx="59.15" cy="-102.45" r="12.30" stroke-width="2.3" fill="none"/>
<circle cx="59.15" cy="-102.45" r="9.00" stroke-width="2.3" fill="none"/>
<circle cx="59.15" cy="-102.45" r="6.00" stroke-width="1.6" fill="none"/>
<circle cx="59.15" cy="-102.45" r="2.60" stroke-width="2.6" fill="none"/>
<line x1="49.15" y1="-85.13" x2="69.15" y2="-119.77" stroke-width="1.1"/>
<line x1="-41.00" y1="-71.01" x2="-75.00" y2="-129.90" stroke-width="1.1"/>
<circle cx="-59.15" cy="-102.45" r="15.80" stroke-width="2.3" fill="#fff"/>
<circle cx="-59.15" cy="-102.45" r="12.30" stroke-width="2.3" fill="none"/>
<circle cx="-59.15" cy="-102.45" r="9.00" stroke-width="2.3" fill="none"/>
<circle cx="-59.15" cy="-102.45" r="6.00" stroke-width="1.6" fill="none"/>
<circle cx="-59.15" cy="-102.45" r="2.60" stroke-width="2.6" fill="none"/>
<line x1="-49.15" y1="-85.13" x2="-69.15" y2="-119.77" stroke-width="1.1"/>
<circle cx="-118.30" cy="-0.00" r="15.80" stroke-width="2.3" fill="#fff"/>
<circle cx="-118.30" cy="-0.00" r="12.30" stroke-width="2.3" fill="none"/>
<circle cx="-118.30" cy="-0.00" r="9.00" stroke-width="2.3" fill="none"/>
<circle cx="-118.30" cy="-0.00" r="6.00" stroke-width="1.6" fill="none"/>
<circle cx="-118.30" cy="-0.00" r="2.60" stroke-width="2.6" fill="none"/>
<line x1="-135.30" y1="-0.00" x2="-101.30" y2="-0.00" stroke-width="1.1"/>
<line x1="-41.00" y1="71.01" x2="-75.00" y2="129.90" stroke-width="1.1"/>
<circle cx="-59.15" cy="102.45" r="15.80" stroke-width="2.3" fill="#fff"/>
<circle cx="-59.15" cy="102.45" r="12.30" stroke-width="2.3" fill="none"/>
<circle cx="-59.15" cy="102.45" r="9.00" stroke-width="2.3" fill="none"/>
<circle cx="-59.15" cy="102.45" r="6.00" stroke-width="1.6" fill="none"/>
<circle cx="-59.15" cy="102.45" r="2.60" stroke-width="2.6" fill="none"/>
<line x1="-49.15" y1="85.13" x2="-69.15" y2="119.77" stroke-width="1.1"/>
<line x1="41.00" y1="71.01" x2="75.00" y2="129.90" stroke-width="1.1"/>
<circle cx="59.15" cy="102.45" r="15.80" stroke-width="2.3" fill="#fff"/>
<circle cx="59.15" cy="102.45" r="12.30" stroke-width="2.3" fill="none"/>
<circle cx="59.15" cy="102.45" r="9.00" stroke-width="2.3" fill="none"/>
<circle cx="59.15" cy="102.45" r="6.00" stroke-width="1.6" fill="none"/>
<circle cx="59.15" cy="102.45" r="2.60" stroke-width="2.6" fill="none"/>
<line x1="49.15" y1="85.13" x2="69.15" y2="119.77" stroke-width="1.1"/>
<line x1="-40.60" y1="-122.00" x2="-32.30" y2="-97.50" stroke-width="7.4" stroke-linecap="round"/>
<line x1="-40.60" y1="-122.00" x2="-32.30" y2="-97.50" stroke-width="4.8" stroke-linecap="round" stroke="#fff"/>
<ellipse cx="-40.03" cy="-122.19" rx="3.0" ry="4.6" transform="rotate(-18.7 -40.60 -122.00)" fill="#000" stroke="none"/>
<ellipse cx="-31.73" cy="-97.69" rx="3.2" ry="5.2" transform="rotate(-18.7 -32.30 -97.50)" fill="#000" stroke="none"/>
<line x1="-39.46" y1="-122.39" x2="-31.16" y2="-97.89" stroke-width="2.6"/>
<line x1="37.40" y1="-122.00" x2="32.20" y2="-97.00" stroke-width="7.4" stroke-linecap="round"/>
<line x1="37.40" y1="-122.00" x2="32.20" y2="-97.00" stroke-width="4.8" stroke-linecap="round" stroke="#fff"/>
<ellipse cx="36.81" cy="-122.12" rx="3.0" ry="4.6" transform="rotate(11.7 37.40 -122.00)" fill="#000" stroke="none"/>
<ellipse cx="31.61" cy="-97.12" rx="3.2" ry="5.2" transform="rotate(11.7 32.20 -97.00)" fill="#000" stroke="none"/>
<line x1="36.23" y1="-122.24" x2="31.03" y2="-97.24" stroke-width="2.6"/>
</g>
<line x1="472.50" y1="31.00" x2="533.00" y2="139.50" stroke-width="1.1"/>
<line x1="529.00" y1="31.00" x2="611.00" y2="119.00" stroke-width="1.1"/>
<line x1="566.50" y1="31.00" x2="638.00" y2="120.50" stroke-width="1.1"/>
<line x1="667.40" y1="26.00" x2="655.50" y2="178.00" stroke-width="1.1"/>
<g id="texts">
<text x="115.30" y="30.20" font-size="16.5" text-anchor="middle" style="font-weight:normal" font-family="Liberation Serif, serif" fill="#000" stroke="#000" stroke-width="0.35">1</text>
<text x="152.70" y="30.20" font-size="16.5" text-anchor="middle" style="font-weight:normal" font-family="Liberation Serif, serif" fill="#000" stroke="#000" stroke-width="0.35">2</text>
<text x="256.80" y="30.20" font-size="16.5" text-anchor="middle" style="font-weight:normal" font-family="Liberation Serif, serif" fill="#000" stroke="#000" stroke-width="0.35">3</text>
<text x="283.00" y="30.20" font-size="16.5" text-anchor="middle" style="font-weight:normal" font-family="Liberation Serif, serif" fill="#000" stroke="#000" stroke-width="0.35">4</text>
<text x="316.80" y="30.20" font-size="16.5" text-anchor="middle" style="font-weight:normal" font-family="Liberation Serif, serif" fill="#000" stroke="#000" stroke-width="0.35">5</text>
<text x="357.20" y="30.20" font-size="16.5" text-anchor="middle" style="font-weight:normal" font-family="Liberation Serif, serif" fill="#000" stroke="#000" stroke-width="0.35">6</text>
<text x="472.30" y="29.40" font-size="16.5" text-anchor="middle" style="font-weight:normal" font-family="Liberation Serif, serif" fill="#000" stroke="#000" stroke-width="0.35">7</text>
<text x="528.30" y="29.40" font-size="16.5" text-anchor="middle" style="font-weight:normal" font-family="Liberation Serif, serif" fill="#000" stroke="#000" stroke-width="0.35">8</text>
<text x="565.30" y="29.40" font-size="16.5" text-anchor="middle" style="font-weight:normal" font-family="Liberation Serif, serif" fill="#000" stroke="#000" stroke-width="0.35">9</text>
<text x="23.00" y="29.20" font-size="18" text-anchor="middle" style="font-weight:normal" font-family="Liberation Serif, serif" fill="#000" stroke="#000" stroke-width="0.55">Y</text>
<text x="34.5" y="29" font-size="17.2" font-weight="bold" font-family="Liberation Serif, Noto Serif CJK SC, serif" fill="#000" stroke="none">型轴孔</text>
<text x="382.60" y="27.30" font-size="20" text-anchor="middle" style="font-weight:normal" font-family="Liberation Serif, serif" fill="#000" stroke="#000" stroke-width="0.5">J</text>
<text x="388.40" y="28.20" font-size="11" text-anchor="middle" style="font-weight:normal" font-family="Liberation Serif, serif" fill="#000" stroke="#000" stroke-width="0.4">1</text>
<text x="397.7" y="26" font-size="17.4" font-weight="bold" font-family="Liberation Serif, Noto Serif CJK SC, serif" fill="#000" stroke="none">型轴孔</text>
<text x="641" y="20" font-size="17.6" font-weight="bold" font-family="Liberation Serif, Noto Serif CJK SC, serif" fill="#000" stroke="none">标志</text>
<text x="229.50" y="53.30" font-size="15.5" text-anchor="middle" style="font-style:italic;font-weight:normal" font-family="Liberation Serif, serif" fill="#000" stroke="#000" stroke-width="0.35">B</text>
<text x="254.50" y="419.20" font-size="16" text-anchor="middle" style="font-style:italic;font-weight:normal" font-family="Liberation Serif, serif" fill="#000" stroke="#000" stroke-width="0.35">S</text>
<text x="25.00" y="240.70" font-size="21" text-anchor="middle" style="font-style:italic;font-weight:normal" font-family="Liberation Serif, serif" fill="#000" stroke="#000" stroke-width="0.15" transform="rotate(-90 25.00 240.70)">D</text>
<text x="61.00" y="245.50" font-size="20" text-anchor="middle" style="font-style:italic;font-weight:normal" font-family="Liberation Serif, serif" fill="#000" stroke="#000" stroke-width="0.2" transform="rotate(-90 61.00 245.50)">d</text>
<text x="64.00" y="234.50" font-size="10" text-anchor="middle" style="font-weight:normal" font-family="Liberation Serif, serif" fill="#000" stroke="#000" stroke-width="0.35" transform="rotate(-90 64.00 234.50)">1</text>
<text x="412.00" y="241.50" font-size="20" text-anchor="middle" style="font-style:italic;font-weight:normal" font-family="Liberation Serif, serif" fill="#000" stroke="#000" stroke-width="0.2" transform="rotate(-90 412.00 241.50)">d</text>
<text x="414.00" y="233.00" font-size="10" text-anchor="middle" style="font-weight:normal" font-family="Liberation Serif, serif" fill="#000" stroke="#000" stroke-width="0.35" transform="rotate(-90 414.00 233.00)">2</text>
<text x="170.00" y="447.50" font-size="18" text-anchor="middle" style="font-style:italic;font-weight:normal" font-family="Liberation Serif, serif" fill="#000" stroke="#000" stroke-width="0.35">L</text>
<text x="179.50" y="449.50" font-size="10.5" text-anchor="middle" style="font-weight:normal" font-family="Liberation Serif, serif" fill="#000" stroke="#000" stroke-width="0.35">1</text>
<text x="286.00" y="446.50" font-size="18" text-anchor="middle" style="font-style:italic;font-weight:normal" font-family="Liberation Serif, serif" fill="#000" stroke="#000" stroke-width="0.35">L</text>
<text x="295.50" y="448.50" font-size="10.5" text-anchor="middle" style="font-weight:normal" font-family="Liberation Serif, serif" fill="#000" stroke="#000" stroke-width="0.35">1</text>
<text x="147.50" y="468.50" font-size="18" text-anchor="middle" style="font-style:italic;font-weight:normal" font-family="Liberation Serif, serif" fill="#000" stroke="#000" stroke-width="0.35">L</text>
<text x="157" y="471" font-size="10" font-weight="bold" font-family="Liberation Serif, Noto Serif CJK SC, serif" fill="#000" stroke="none">推荐</text>
<text x="300.00" y="467.00" font-size="18" text-anchor="middle" style="font-style:italic;font-weight:normal" font-family="Liberation Serif, serif" fill="#000" stroke="#000" stroke-width="0.35">L</text>
<text x="310.3" y="469.4" font-size="10" font-weight="bold" font-family="Liberation Serif, Noto Serif CJK SC, serif" fill="#000" stroke="none">推荐</text>
<text x="167.50" y="491.00" font-size="18" text-anchor="middle" style="font-style:italic;font-weight:normal" font-family="Liberation Serif, serif" fill="#000" stroke="#000" stroke-width="0.35">L</text>
<text x="315.50" y="490.00" font-size="18" text-anchor="middle" style="font-style:italic;font-weight:normal" font-family="Liberation Serif, serif" fill="#000" stroke="#000" stroke-width="0.35">L</text>
<text x="366.00" y="552.30" font-size="19.5" text-anchor="start" style="font-weight:normal" font-family="Liberation Serif, serif" fill="#000" stroke="#000" stroke-width="0.35">L</text>
<text x="379.00" y="552.30" font-size="19.5" text-anchor="start" style="font-weight:normal" font-family="Liberation Serif, serif" fill="#000" stroke="#000" stroke-width="0.35">K</text>
<text x="401" y="552.5" font-size="18" font-weight="bold" font-family="Liberation Serif, Noto Serif CJK SC, serif" fill="#000" stroke="none">型弹性块联轴器</text>
<text x="45.65" y="582.00" font-size="16.5" text-anchor="middle" style="font-weight:normal" font-family="Liberation Serif, serif" fill="#000" stroke="#000" stroke-width="0.2">1</text>
<text x="52" y="583" font-size="14" font-weight="bold" font-family="Liberation Serif, Noto Serif CJK SC, serif" fill="#000" stroke="none">、</text>
<text x="74.00" y="582.00" font-size="16.5" text-anchor="middle" style="font-weight:normal" font-family="Liberation Serif, serif" fill="#000" stroke="#000" stroke-width="0.2">6</text>
<text x="78.5" y="582" font-size="18.5" font-family="Liberation Serif, Noto Serif CJK SC, serif" fill="#000" stroke="none">—</text>
<text x="97.7" y="583" font-size="17.3" font-weight="bold" font-family="Liberation Serif, Noto Serif CJK SC, serif" fill="#000" stroke="none">半联轴器；</text>
<text x="191.00" y="582.00" font-size="16.5" text-anchor="middle" style="font-weight:normal" font-family="Liberation Serif, serif" fill="#000" stroke="#000" stroke-width="0.2">2</text>
<text x="196.6" y="582" font-size="18.5" font-family="Liberation Serif, Noto Serif CJK SC, serif" fill="#000" stroke="none">—</text>
<text x="216" y="583" font-size="17.3" font-weight="bold" font-family="Liberation Serif, Noto Serif CJK SC, serif" fill="#000" stroke="none">传力臂；</text>
<text x="292.00" y="582.00" font-size="16.5" text-anchor="middle" style="font-weight:normal" font-family="Liberation Serif, serif" fill="#000" stroke="#000" stroke-width="0.2">3</text>
<text x="296.6" y="582" font-size="18.5" font-family="Liberation Serif, Noto Serif CJK SC, serif" fill="#000" stroke="none">—</text>
<text x="315.7" y="583" font-size="17.3" font-weight="bold" font-family="Liberation Serif, Noto Serif CJK SC, serif" fill="#000" stroke="none">锥套；</text>
<text x="373.85" y="582.00" font-size="16.5" text-anchor="middle" style="font-weight:normal" font-family="Liberation Serif, serif" fill="#000" stroke="#000" stroke-width="0.2">4</text>
<text x="379" y="582" font-size="18.5" font-family="Liberation Serif, Noto Serif CJK SC, serif" fill="#000" stroke="none">—</text>
<text x="398" y="583" font-size="17.3" font-weight="bold" font-family="Liberation Serif, Noto Serif CJK SC, serif" fill="#000" stroke="none">垫圈；</text>
<text x="456.35" y="582.00" font-size="16.5" text-anchor="middle" style="font-weight:normal" font-family="Liberation Serif, serif" fill="#000" stroke="#000" stroke-width="0.2">5</text>
<text x="461.3" y="582" font-size="18.5" font-family="Liberation Serif, Noto Serif CJK SC, serif" fill="#000" stroke="none">—</text>
<text x="480.4" y="583" font-size="17.3" font-weight="bold" font-family="Liberation Serif, Noto Serif CJK SC, serif" fill="#000" stroke="none">螺母；</text>
<text x="537.90" y="582.00" font-size="16.5" text-anchor="middle" style="font-weight:normal" font-family="Liberation Serif, serif" fill="#000" stroke="#000" stroke-width="0.2">7</text>
<text x="542.8" y="582" font-size="18.5" font-family="Liberation Serif, Noto Serif CJK SC, serif" fill="#000" stroke="none">—</text>
<text x="562" y="583" font-size="17.3" font-weight="bold" font-family="Liberation Serif, Noto Serif CJK SC, serif" fill="#000" stroke="none">弹性块；</text>
<text x="639.30" y="582.00" font-size="16.5" text-anchor="middle" style="font-weight:normal" font-family="Liberation Serif, serif" fill="#000" stroke="#000" stroke-width="0.2">8</text>
<text x="644" y="582" font-size="18.5" font-family="Liberation Serif, Noto Serif CJK SC, serif" fill="#000" stroke="none">—</text>
<text x="663.4" y="583" font-size="17.3" font-weight="bold" font-family="Liberation Serif, Noto Serif CJK SC, serif" fill="#000" stroke="none">螺栓；</text>
<text x="721.50" y="582.00" font-size="16.5" text-anchor="middle" style="font-weight:normal" font-family="Liberation Serif, serif" fill="#000" stroke="#000" stroke-width="0.2">9</text>
<text x="726" y="582" font-size="18.5" font-family="Liberation Serif, Noto Serif CJK SC, serif" fill="#000" stroke="none">—</text>
<text x="745.4" y="583" font-size="17.3" font-weight="bold" font-family="Liberation Serif, Noto Serif CJK SC, serif" fill="#000" stroke="none">压板</text>
</g>
</g>
</svg>
</body></html>
